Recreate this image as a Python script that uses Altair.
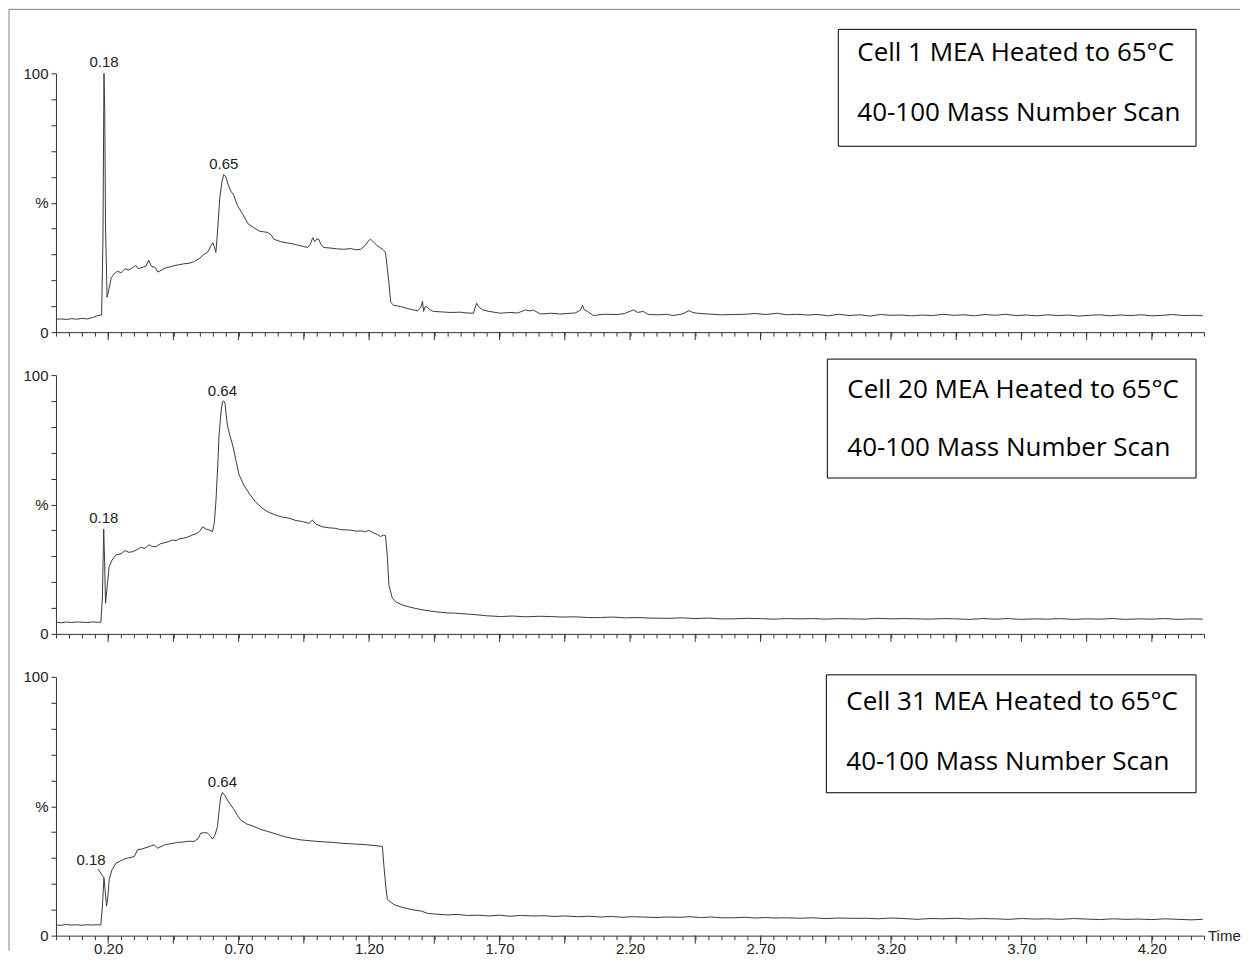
import altair as alt
import pandas as pd

# ---------------- data ----------------
T1 = [0.000, 0.02, 0.04, 0.06, 0.08, 0.10, 0.12, 0.14, 0.155, 0.165, 0.175, 0.180, 0.184, 0.187, 0.190,
      0.196, 0.204, 0.212, 0.222, 0.235, 0.25, 0.265, 0.28, 0.295, 0.306, 0.315, 0.33, 0.345, 0.356, 0.365,
      0.38, 0.391, 0.405, 0.42, 0.44, 0.452, 0.47, 0.49, 0.51, 0.528, 0.55, 0.567, 0.582, 0.595, 0.601,
      0.607, 0.613, 0.62, 0.628, 0.636, 0.643, 0.651, 0.66, 0.67, 0.681, 0.695, 0.716, 0.735, 0.758, 0.78,
      0.812, 0.825, 0.835, 0.86, 0.885, 0.911, 0.94, 0.965, 0.975, 0.984, 0.992, 1.000, 1.007, 1.015, 1.026,
      1.05, 1.075, 1.103, 1.13, 1.15, 1.168, 1.185, 1.2, 1.206, 1.215, 1.23, 1.24, 1.252, 1.263, 1.275,
      1.283, 1.294, 1.321, 1.345, 1.371, 1.386, 1.398, 1.405, 1.409, 1.415, 1.424, 1.435, 1.447, 1.48, 1.51,
      1.551, 1.575, 1.600, 1.605, 1.612, 1.62, 1.635, 1.66, 1.704, 1.74, 1.77, 1.799, 1.815, 1.830, 1.857,
      1.9, 1.93, 1.960, 1.99, 2.010, 2.018, 2.025, 2.037, 2.060, 2.1, 2.152, 2.18, 2.213, 2.23, 2.251,
      2.270, 2.31, 2.34, 2.366, 2.40, 2.427, 2.44, 2.458, 2.50, 2.55, 2.596, 2.64, 2.68, 2.72, 2.764,
      2.80, 2.84, 2.879, 2.92, 2.96, 3.00, 3.04, 3.08, 3.12, 3.16, 3.20, 3.24, 3.28, 3.32, 3.36, 3.40,
      3.44, 3.48, 3.52, 3.56, 3.60, 3.64, 3.68, 3.72, 3.76, 3.80, 3.84, 3.88, 3.92, 3.96, 4.00, 4.04,
      4.08, 4.12, 4.16, 4.20, 4.24, 4.28, 4.32, 4.36, 4.395]
V1 = [5.0, 5.1, 4.9, 5.2, 5.0, 5.3, 5.1, 5.6, 6.2, 6.5, 6.6, 35, 100, 85, 40,
      13.5, 17, 21, 22.4, 23.5, 23, 24.5, 24, 25, 25.8, 24.5, 25, 25.5, 27.8, 25.5,
      25, 23.2, 24, 24.8, 25.3, 25.7, 26, 26.4, 26.6, 27.2, 28.5, 30, 31, 33.5, 34.6,
      33, 30.8, 40, 52, 58, 60.9, 60, 57, 54.5, 53, 49, 45.5, 42, 40.4, 39,
      38.5, 37.5, 35.9, 35, 34.5, 34, 33.3, 32.7, 34, 36.5, 35, 36, 35.9, 34, 32.7,
      32.5, 32.2, 32, 32.3, 31.8, 32, 33.5, 35.5, 35.9, 35, 33.5, 32.8, 32, 30.8, 20,
      11.5, 10.4, 9.9, 9.2, 8.5, 8.3, 9.5, 11.9, 8, 9.8, 9.6, 8.5, 8.0, 7.8, 7.6,
      7.7, 7.4, 7.3, 9, 11.2, 9.8, 8.6, 8.0, 7.3, 7.6, 7.4, 8.6, 8.2, 8.5, 7.0,
      7.3, 7.0, 7.2, 7.4, 8.5, 10.3, 8.6, 8.0, 6.4, 6.9, 6.8, 7.2, 8.6, 7.6, 8.0,
      6.8, 6.7, 6.9, 6.4, 7.0, 8.3, 7.6, 7.3, 7.0, 6.7, 6.8, 6.9, 7.2, 6.8, 7.3,
      6.7, 6.9, 6.6, 6.8, 6.3, 6.9, 6.4, 6.7, 6.2, 6.8, 6.5, 6.6, 6.3, 6.6, 6.4, 6.9,
      6.5, 6.7, 6.3, 6.8, 6.5, 6.9, 6.4, 6.6, 6.3, 6.7, 6.4, 6.6, 6.2, 6.5, 6.7, 6.3,
      6.6, 6.4, 6.7, 6.3, 6.5, 6.8, 6.4, 6.5, 6.3]

T2 = [0.000, 0.02, 0.04, 0.06, 0.08, 0.10, 0.12, 0.14, 0.16, 0.172, 0.178, 0.183, 0.186, 0.190, 0.196,
      0.204, 0.215, 0.230, 0.25, 0.265, 0.28, 0.294, 0.31, 0.325, 0.34, 0.356, 0.37, 0.383, 0.40, 0.415,
      0.43, 0.447, 0.46, 0.475, 0.49, 0.509, 0.525, 0.54, 0.55, 0.562, 0.575, 0.59, 0.600, 0.607, 0.613,
      0.620, 0.625, 0.632, 0.638, 0.643, 0.648, 0.652, 0.657, 0.667, 0.677, 0.69, 0.702, 0.72, 0.740, 0.765,
      0.791, 0.815, 0.842, 0.865, 0.893, 0.92, 0.945, 0.970, 0.983, 0.995, 1.021, 1.045, 1.07, 1.090, 1.110,
      1.13, 1.15, 1.170, 1.187, 1.199, 1.215, 1.23, 1.244, 1.255, 1.263, 1.270, 1.276, 1.289, 1.305, 1.327,
      1.35, 1.375, 1.404, 1.43, 1.46, 1.50, 1.531, 1.57, 1.61, 1.65, 1.704, 1.75, 1.80, 1.85, 1.895,
      1.94, 1.99, 2.04, 2.087, 2.13, 2.18, 2.23, 2.28, 2.343, 2.40, 2.45, 2.50, 2.55, 2.596, 2.65,
      2.70, 2.75, 2.80, 2.852, 2.90, 2.95, 3.00, 3.05, 3.10, 3.15, 3.20, 3.25, 3.30, 3.35, 3.40,
      3.45, 3.50, 3.55, 3.60, 3.65, 3.70, 3.75, 3.80, 3.85, 3.90, 3.95, 4.00, 4.05, 4.10, 4.15,
      4.20, 4.25, 4.30, 4.35, 4.395]
V2 = [4.5, 4.3, 4.6, 4.4, 4.6, 4.5, 4.4, 4.6, 4.5, 4.5, 13.8, 40.5, 30, 11.8, 18,
      26, 28.5, 30.5, 31, 32.2, 31.5, 31.8, 32.5, 33.5, 33, 34.4, 33.8, 33.7, 34.8, 35.2,
      35.6, 36.3, 36, 36.8, 37, 37.6, 38.3, 38.8, 39.5, 41.4, 40.5, 40, 39.5, 43, 51.1,
      65, 76.8, 85, 89.7, 90, 89, 85, 80.7, 76.5, 73, 67, 61.4, 57.5, 54.3, 51,
      48.5, 47, 45.9, 45.2, 44.7, 43.8, 43.4, 42.7, 44, 42.5, 41.4, 41, 40.8, 40.3, 40.2,
      40.1, 39.7, 39.8, 39.5, 40, 39.1, 38.5, 37.6, 38.2, 38, 30, 18.9, 13.8, 12.2, 11.2,
      10.5, 9.9, 9.3, 8.9, 8.5, 8.1, 8.0, 7.7, 7.4, 7.0, 6.7, 6.9, 6.6, 6.8, 6.7,
      6.5, 6.6, 6.3, 6.3, 6.5, 6.2, 6.3, 6.1, 6.0, 6.2, 5.9, 6.1, 5.8, 5.8, 6.0,
      5.9, 5.7, 5.9, 5.8, 5.9, 5.7, 5.9, 5.8, 5.7, 6.0, 5.8, 5.9, 5.8, 5.7, 5.9,
      5.8, 5.6, 5.9, 5.7, 5.9, 5.6, 5.8, 5.7, 5.9, 5.6, 5.8, 5.7, 5.9, 5.6, 5.8,
      5.7, 5.9, 5.6, 5.8, 5.7]

T3 = [0.000, 0.02, 0.04, 0.06, 0.08, 0.10, 0.12, 0.14, 0.16, 0.172, 0.178, 0.184, 0.188, 0.194, 0.199,
      0.204, 0.215, 0.230, 0.25, 0.262, 0.275, 0.29, 0.300, 0.313, 0.33, 0.345, 0.36, 0.376, 0.389, 0.405,
      0.42, 0.44, 0.466, 0.49, 0.51, 0.529, 0.545, 0.555, 0.57, 0.581, 0.592, 0.600, 0.610, 0.619, 0.627,
      0.632, 0.638, 0.645, 0.657, 0.67, 0.683, 0.695, 0.708, 0.73, 0.759, 0.785, 0.810, 0.84, 0.874, 0.905,
      0.938, 0.97, 1.00, 1.035, 1.065, 1.095, 1.13, 1.16, 1.193, 1.22, 1.251, 1.257, 1.264, 1.270, 1.295,
      1.33, 1.372, 1.40, 1.424, 1.46, 1.50, 1.54, 1.577, 1.62, 1.66, 1.70, 1.74, 1.78, 1.830, 1.87,
      1.91, 1.95, 2.00, 2.04, 2.087, 2.13, 2.17, 2.21, 2.25, 2.30, 2.343, 2.39, 2.43, 2.47, 2.51,
      2.55, 2.596, 2.64, 2.68, 2.72, 2.76, 2.80, 2.852, 2.90, 2.95, 3.00, 3.05, 3.109, 3.15, 3.20,
      3.25, 3.300, 3.35, 3.40, 3.45, 3.50, 3.55, 3.60, 3.65, 3.70, 3.75, 3.80, 3.85, 3.90, 3.95,
      4.00, 4.05, 4.10, 4.15, 4.20, 4.25, 4.30, 4.35, 4.395]
V3 = [4.1, 4.0, 4.3, 4.1, 4.2, 4.0, 4.2, 4.1, 4.2, 4.1, 11.4, 22.3, 18, 11.4, 15,
      21.7, 25.5, 28, 29, 29.6, 30, 30.3, 30.5, 33.2, 33.5, 34, 34.5, 35.1, 33.8, 34.5,
      35.2, 35.5, 36, 36.2, 36.5, 36.4, 37.5, 39.6, 39.8, 39.6, 38.5, 37.3, 39, 42.2, 50,
      53.7, 55.3, 54.5, 52.4, 50.5, 48.6, 46.5, 44.7, 43.2, 42.2, 41, 40.3, 39.4, 38.3, 37.6,
      37, 36.7, 36.4, 36.2, 36, 35.7, 35.5, 35.3, 35.1, 34.8, 34.5, 26.8, 19, 14, 12,
      10.8, 9.9, 9.5, 8.6, 8.3, 8.0, 8.2, 7.8, 7.9, 7.6, 7.9, 7.5, 7.8, 7.6, 7.7,
      7.4, 7.6, 7.3, 7.5, 7.2, 7.4, 7.1, 7.3, 7.2, 7.0, 7.2, 7.1, 7.3, 7.0, 7.2,
      6.9, 6.9, 7.1, 6.8, 7.0, 6.8, 6.9, 6.7, 6.9, 6.6, 6.8, 6.7, 6.7, 6.5, 6.8,
      6.6, 6.3, 6.6, 6.5, 6.7, 6.4, 6.6, 6.5, 6.3, 6.6, 6.4, 6.5, 6.3, 6.6, 6.4,
      6.2, 6.5, 6.3, 6.4, 6.2, 6.5, 6.3, 6.1, 6.3]

# peak annotations: retention time, intensity, label
PEAKS1_T, PEAKS1_V, PEAKS1_TXT = [0.184, 0.643], [100, 60.9], ["0.18", "0.65"]
PEAKS2_T, PEAKS2_V, PEAKS2_TXT = [0.638, 0.183], [89.7, 40.5], ["0.64", "0.18"]
PEAKS3_T, PEAKS3_V, PEAKS3_TXT = [0.638], [55.3], ["0.64"]
LEADER3_T, LEADER3_V, LEADER3_TXT = [0.184], [22.3], ["0.18"]

BOX1 = ["Cell 1 MEA Heated to 65°C", "40-100 Mass Number Scan"]
BOX2 = ["Cell 20 MEA Heated to 65°C", "40-100 Mass Number Scan"]
BOX3 = ["Cell 31 MEA Heated to 65°C", "40-100 Mass Number Scan"]

X_LABELS = ["0.20", "0.70", "1.20", "1.70", "2.20", "2.70", "3.20", "3.70", "4.20"]
X_MAJOR = [0.20, 0.45, 0.70, 0.95, 1.20, 1.45, 1.70, 1.95, 2.20, 2.45, 2.70, 2.95,
           3.20, 3.45, 3.70, 3.95, 4.20]
X_MINOR = [round(0.05 * i, 2) for i in range(89)]
Y_TICKS = [0, 10, 20, 30, 40, 50, 60, 70, 80, 90, 100]

# ---------------- styling ----------------
W, H = 1149, 259
LINE_COLOR = "#3a3a3a"
AX_COLOR = "#333333"
TXT_COLOR = "#222222"
AX_FONT = "Liberation Sans"
BOX_FONT = "Open Sans"
BOX_SIZE = 26

label_list = "[" + ",".join("'" + s + "'" for s in X_LABELS) + "]"
x_label_expr = f"indexof({label_list}, format(datum.value, '.2f')) >= 0 ? format(datum.value, '.2f') : ''"
y_label_expr = "datum.value == 100 ? '100' : (datum.value == 50 ? '%' : (datum.value == 0 ? '0' : ''))"


def make_x(show_labels):
    return alt.X(
        "t:Q",
        scale=alt.Scale(domain=[0, 4.4], nice=False, zero=False),
        axis=alt.Axis(
            values=X_MINOR, tickSize=4, tickColor=AX_COLOR, domainColor=AX_COLOR,
            labels=show_labels, labelExpr=x_label_expr, labelOverlap=False, labelFlush=False,
            labelPadding=2, labelFontSize=15, labelFont=AX_FONT, labelColor=TXT_COLOR,
            grid=False, title=None,
        ),
    )


Y = alt.Y(
    "v:Q",
    scale=alt.Scale(domain=[0, 100], nice=False),
    axis=alt.Axis(
        values=Y_TICKS, tickSize=5, tickColor=AX_COLOR, domainColor=AX_COLOR,
        labelExpr=y_label_expr, labelPadding=3, labelFontSize=15, labelFont=AX_FONT,
        labelColor=TXT_COLOR, grid=False, title=None,
    ),
)


def one_row():
    return pd.DataFrame({"k": [0]})


def panel(t, v, pk_t, pk_v, pk_txt, box_lines, box, text_x, base1, base2,
          show_labels=False, leader=None, frame=False, time_label=False):
    X = make_x(show_labels)
    layers = []
    if frame:
        # thin outer frame of the figure (left and top edges)
        layers.append(
            alt.Chart(one_row()).mark_rule(color="#808080", strokeWidth=1).encode(
                x=alt.value(-47), x2=alt.value(1185), y=alt.value(-64))
        )
        layers.append(
            alt.Chart(one_row()).mark_rule(color="#808080", strokeWidth=1).encode(
                x=alt.value(-47), y=alt.value(-64), y2=alt.value(878))
        )
    layers.append(
        alt.Chart(pd.DataFrame({"t": t, "v": v})).mark_line(
            color=LINE_COLOR, strokeWidth=1).encode(x=X, y=Y)
    )
    layers.append(
        alt.Chart(pd.DataFrame({"t": X_MAJOR})).mark_rule(color=AX_COLOR, strokeWidth=1).encode(
            x=X, y=alt.value(H), y2=alt.value(H + 8))
    )
    layers.append(
        alt.Chart(pd.DataFrame({"t": pk_t, "v": pk_v, "txt": pk_txt})).mark_text(
            baseline="bottom", dy=-3, fontSize=15, font=AX_FONT, color=TXT_COLOR).encode(
            x=X, y=Y, text="txt:N")
    )
    if leader is not None:
        lt, lv, ltxt = leader
        ldf = pd.DataFrame({"t": lt, "v": lv, "txt": ltxt,
                            "t2": [a - 0.023 for a in lt], "v2": [b + 3.5 for b in lv]})
        layers.append(
            alt.Chart(ldf).mark_rule(color=LINE_COLOR, strokeWidth=1).encode(
                x=X, y=Y, x2="t2:Q", y2="v2:Q")
        )
        layers.append(
            alt.Chart(ldf).mark_text(baseline="bottom", dx=-13, dy=-10, fontSize=15,
                                     font=AX_FONT, color=TXT_COLOR).encode(x=X, y=Y, text="txt:N")
        )
    bx1, bx2, by1, by2 = box
    layers.append(
        alt.Chart(one_row()).mark_rect(fill="white", stroke="black", strokeWidth=1).encode(
            x=alt.value(bx1), x2=alt.value(bx2), y=alt.value(by1), y2=alt.value(by2))
    )
    for txt, base in zip(box_lines, [base1, base2]):
        layers.append(
            alt.Chart(one_row()).mark_text(align="left", baseline="alphabetic", font=BOX_FONT,
                                           fontSize=BOX_SIZE, color="black").encode(
                x=alt.value(text_x), y=alt.value(base), text=alt.value(txt))
        )
    if time_label:
        layers.append(
            alt.Chart(one_row()).mark_text(align="left", baseline="middle", font=AX_FONT,
                                           fontSize=15, color=TXT_COLOR).encode(
                x=alt.value(W + 4), y=alt.value(H), text=alt.value("Time"))
        )
    return alt.layer(*layers).properties(width=W, height=H)


p1 = panel(T1, V1, PEAKS1_T, PEAKS1_V, PEAKS1_TXT, BOX1, (783, 1141, -44, 73), 802, -12, 48,
           frame=True)
p2 = panel(T2, V2, PEAKS2_T, PEAKS2_V, PEAKS2_TXT, BOX2, (772, 1141, -16, 103), 792, 23, 81)
p3 = panel(T3, V3, PEAKS3_T, PEAKS3_V, PEAKS3_TXT, BOX3, (771, 1141, -2, 116), 791, 33, 93,
           show_labels=True, leader=(LEADER3_T, LEADER3_V, LEADER3_TXT), time_label=True)

chart = alt.vconcat(p1, p2, p3, spacing=43, bounds="flush").properties(
    padding={"left": 0, "top": 0, "right": 0, "bottom": 0}
).configure_view(stroke="transparent")

chart.save("out.html", embed_options={"renderer": "svg", "actions": False})
